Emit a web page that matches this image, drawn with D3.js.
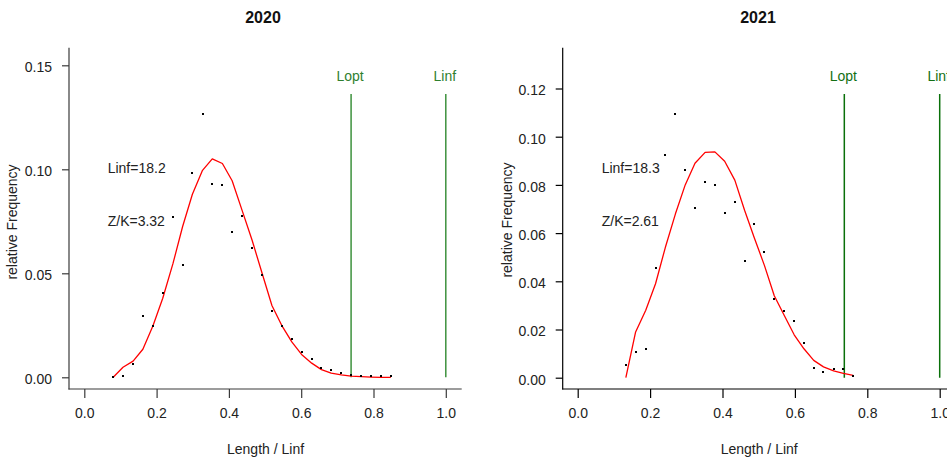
<!DOCTYPE html>
<html><head><meta charset="utf-8">
<script src="https://cdn.jsdelivr.net/npm/d3@7/dist/d3.min.js"></script>
<style>body{margin:0;background:#fff} svg{display:block;font-family:"Liberation Sans",Arial,sans-serif}</style>
</head><body><svg id="c" width="947" height="461"></svg>
<script>
const years = ["2020", "2021"];

const lenRatio2020 = [0.080, 0.107, 0.135, 0.162, 0.190, 0.217, 0.245, 0.272, 0.299, 0.327,
  0.354, 0.382, 0.409, 0.437, 0.464, 0.491, 0.519, 0.546, 0.574, 0.601,
  0.629, 0.656, 0.683, 0.711, 0.738, 0.766, 0.793, 0.821, 0.848];
const obs2020 = [0.0000, 0.0008, 0.0064, 0.0296, 0.0245, 0.0404, 0.0772, 0.0541, 0.0981, 0.1266,
  0.0929, 0.0923, 0.0697, 0.0777, 0.0623, 0.0493, 0.0320, 0.0245, 0.0183, 0.0120,
  0.0090, 0.0046, 0.0034, 0.0019, 0.0010, 0.0008, 0.0006, 0.0006, 0.0006];
const fit2020 = [0.0000, 0.0048, 0.0078, 0.0135, 0.0248, 0.0380, 0.0545, 0.0725, 0.0880, 0.0995,
  0.1050, 0.1028, 0.0945, 0.0800, 0.0660, 0.0505, 0.0345, 0.0250, 0.0170, 0.0110,
  0.0068, 0.0037, 0.0020, 0.0012, 0.0006, 0.0003, 0.0001, 0.0000, 0.0000];

const lenRatio2021 = [0.133, 0.160, 0.188, 0.215, 0.242, 0.270, 0.297, 0.324, 0.352, 0.379,
  0.406, 0.434, 0.461, 0.488, 0.516, 0.543, 0.570, 0.598, 0.625, 0.652,
  0.679, 0.707, 0.734, 0.761];
const obs2021 = [0.0051, 0.0105, 0.0118, 0.0457, 0.0922, 0.1095, 0.0862, 0.0706, 0.0814, 0.0798,
  0.0684, 0.0727, 0.0484, 0.0636, 0.0521, 0.0326, 0.0278, 0.0236, 0.0142, 0.0041,
  0.0025, 0.0035, 0.0036, 0.0008];
const fit2021 = [0.0000, 0.0190, 0.0280, 0.0390, 0.0540, 0.0680, 0.0800, 0.0890, 0.0935, 0.0937,
  0.0898, 0.0820, 0.0695, 0.0580, 0.0465, 0.0340, 0.0260, 0.0178, 0.0120, 0.0072,
  0.0045, 0.0028, 0.0018, 0.0010];

const xTicks = [0, 0.2, 0.4, 0.6, 0.8, 1.0];
const yTicks2020 = [0, 0.05, 0.10, 0.15];
const yTicks2021 = [0, 0.02, 0.04, 0.06, 0.08, 0.10, 0.12];
const loptRatio = [0.738, 0.7365];
const linfRatio = [1.0, 1.0];
const linfText = ["Linf=18.2", "Linf=18.3"];
const zkText = ["Z/K=3.32", "Z/K=2.61"];
const refLabels = ["Lopt", "Linf"];

const panels = [
  {xs: lenRatio2020, obs: obs2020, fit: fit2020, yTicks: yTicks2020, yMax: 0.15,
   xr: [84.3, 445.8], yr: [377.3, 65.3], axX: 69, axB: 389, top: 47.7, right: 461.7,
   titleX: 263, ylab: [16.5, 222], axisColor: "#3a3a3a", green: "#3d913d", greenText: "#2f7f2f",
   annX: 107.7},
  {xs: lenRatio2021, obs: obs2021, fit: fit2021, yTicks: yTicks2021, yMax: 0.12,
   xr: [577.7, 939.7], yr: [377.7, 88.5], axX: 562.7, axB: 389, top: 47.7, right: 960,
   titleX: 758, ylab: [511.5, 220], axisColor: "#000", green: "#0a700a", greenText: "#137013",
   annX: 601.7}
];

const svg = d3.select("#c");
const fmt2 = d3.format(".2f"), fmt1 = d3.format(".1f");

panels.forEach((p, i) => {
  const x = d3.scaleLinear().domain([0, 1]).range(p.xr);
  const y = d3.scaleLinear().domain([0, p.yMax]).range(p.yr);
  const g = svg.append("g");

  // title
  g.append("text").attr("x", p.titleX).attr("y", 22.5).attr("text-anchor", "middle")
    .attr("font-size", 16).attr("font-weight", "bold").attr("fill", "#111").text(years[i]);

  // axes box lines (L shape)
  g.append("line").attr("x1", p.axX).attr("x2", p.axX).attr("y1", p.top).attr("y2", p.axB + 0.5)
    .attr("stroke", p.axisColor).attr("stroke-width", 1.2);
  g.append("line").attr("x1", p.axX - 0.5).attr("x2", p.right).attr("y1", p.axB).attr("y2", p.axB)
    .attr("stroke", p.axisColor).attr("stroke-width", 1.2);

  // y axis
  const ya = g.append("g").attr("transform", `translate(${p.axX},0)`)
    .call(d3.axisLeft(y).tickValues(p.yTicks).tickFormat(fmt2).tickSize(7).tickPadding(10).tickSizeOuter(0));
  ya.select(".domain").remove();
  ya.selectAll("line").attr("stroke", p.axisColor).attr("stroke-width", 1.2);
  ya.selectAll("text").attr("font-size", 14).attr("fill", "#222").attr("dy", "0.45em")
    .attr("font-family", '"Liberation Sans",Arial,sans-serif');

  // x axis
  const xa = g.append("g").attr("transform", `translate(0,${p.axB})`)
    .call(d3.axisBottom(x).tickValues(xTicks).tickFormat(fmt1).tickSize(9).tickPadding(10).tickSizeOuter(0));
  xa.select(".domain").remove();
  xa.selectAll("line").attr("stroke", p.axisColor).attr("stroke-width", 1.2);
  xa.selectAll("text").attr("font-size", 14).attr("fill", "#222")
    .attr("font-family", '"Liberation Sans",Arial,sans-serif');

  // axis labels
  g.append("text").attr("x", (p.xr[0] + p.xr[1]) / 2 + 0.5).attr("y", 454).attr("text-anchor", "middle")
    .attr("font-size", 14).attr("fill", "#222").text("Length / Linf");
  g.append("text").attr("transform", `translate(${p.ylab[0]},${p.ylab[1]}) rotate(-90)`)
    .attr("text-anchor", "middle").attr("font-size", 14).attr("fill", "#222").text("relative Frequency");

  // reference lines Lopt / Linf
  [loptRatio[i], linfRatio[i]].forEach((v, k) => {
    g.append("line").attr("x1", x(v)).attr("x2", x(v)).attr("y1", 94).attr("y2", y(0))
      .attr("stroke", p.green).attr("stroke-width", 1.5);
    g.append("text").attr("x", x(v) - 1).attr("y", 80.5).attr("text-anchor", "middle")
      .attr("font-size", 14).attr("fill", p.greenText).text(refLabels[k]);
  });

  // annotations
  g.append("text").attr("x", p.annX).attr("y", 173).attr("font-size", 14).attr("fill", "#222").text(linfText[i]);
  g.append("text").attr("x", p.annX).attr("y", 226).attr("font-size", 14).attr("fill", "#222").text(zkText[i]);

  // fitted curve
  const line = d3.line().x((d, j) => x(p.xs[j])).y(d => y(d));
  g.append("path").datum(p.fit).attr("d", line).attr("fill", "none")
    .attr("stroke", "#ff0000").attr("stroke-width", 1.3).attr("stroke-linejoin", "round");

  // observed points
  g.selectAll("rect.pt").data(p.obs).join("rect").attr("class", "pt")
    .attr("x", (d, j) => Math.round(x(p.xs[j])) - 1)
    .attr("y", d => Math.round(y(d)) - 1)
    .attr("width", 2).attr("height", 2).attr("fill", "#000");
});
</script>
</body></html>
